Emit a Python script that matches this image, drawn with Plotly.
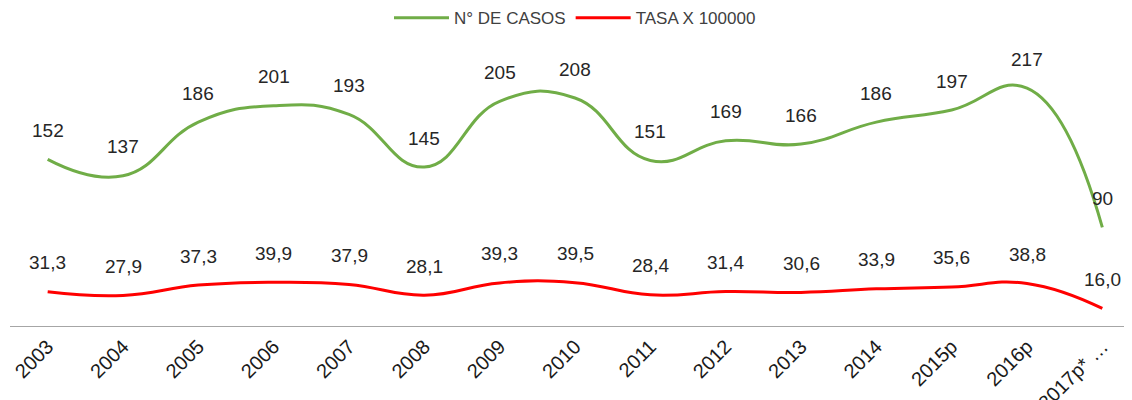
import plotly.graph_objects as go

years = ["2003", "2004", "2005", "2006", "2007", "2008", "2009", "2010", "2011",
         "2012", "2013", "2014", "2015p", "2016p", "2017p* …"]
casos = [152, 137, 186, 201, 193, 145, 205, 208, 151, 169, 166, 186, 197, 217, 90]
tasa = [31.3, 27.9, 37.3, 39.9, 37.9, 28.1, 39.3, 39.5, 28.4, 31.4, 30.6, 33.9, 35.6, 38.8, 16.0]

def fmt(v):
    return f"{v:.1f}".replace(".", ",")

fig = go.Figure()
fig.add_trace(go.Scatter(x=years, y=casos, mode="lines", name="N° DE CASOS",
                         line=dict(color="#70AD47", width=3, shape="spline", smoothing=1.3)))
fig.add_trace(go.Scatter(x=years, y=tasa, mode="lines", name="TASA X 100000",
                         line=dict(color="#FF0000", width=3, shape="spline", smoothing=1.3)))

lab_font = dict(size=19, color="#262626", family="Liberation Sans, Arial")
ann = []
for i, y in enumerate(casos):
    ann.append(dict(x=i, y=y, text=str(y), showarrow=False, yshift=29, font=lab_font))
for i, y in enumerate(tasa):
    ann.append(dict(x=i, y=y, text=fmt(y), showarrow=False, yshift=29, font=lab_font))

fig.update_layout(
    width=1132, height=400,
    margin=dict(l=2, r=0, t=33, b=82, autoexpand=False),
    paper_bgcolor="white", plot_bgcolor="white",
    annotations=ann,
    showlegend=True,
    legend=dict(orientation="h", x=0.5, xanchor="center", y=1.08, yanchor="middle",
                font=dict(size=17, color="#404040", family="Liberation Sans, Arial"),
                itemwidth=55),
    xaxis=dict(type="category", range=[-0.5, len(years) - 0.5], showgrid=False,
               showline=True, linecolor="#A6A6A6",
               linewidth=1, ticks="", tickangle=-45,
               tickfont=dict(size=20, color="#1a1a1a", family="Liberation Sans, Arial"),
               automargin=False, zeroline=False),
    yaxis=dict(range=[0, 260], visible=False, showgrid=False, zeroline=False),
)
fig.write_html("out.html")
